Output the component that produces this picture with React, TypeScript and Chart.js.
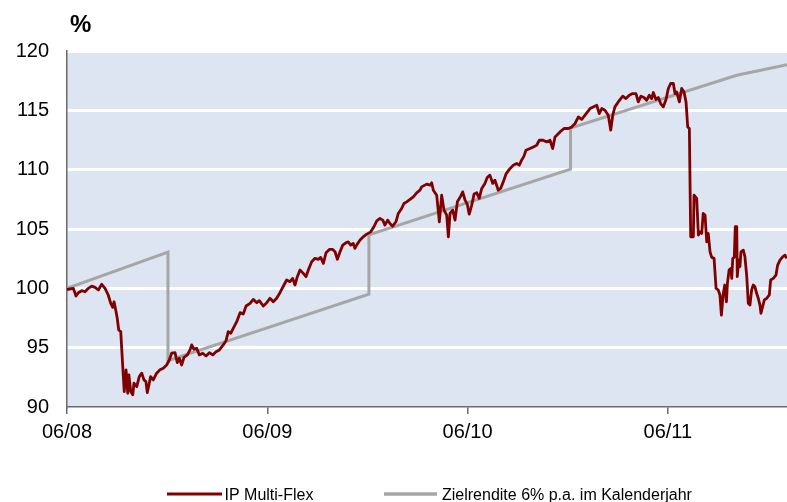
import React, { useEffect, useRef } from 'react';
import { Chart, registerables } from 'chart.js';

Chart.register(...registerables);

// ---------- data ----------
const tickMonths = [0, 12, 24, 36]; // months after end of June 2008
const tickLabels = ['06/08', '06/09', '06/10', '06/11'];
const seriesNames = ['IP Multi-Flex', 'Zielrendite 6% p.a. im Kalenderjahr'];

const fundMonths = [
  0, 0.38, 0.54, 0.68, 0.88, 1.08, 1.28, 1.48, 1.68, 1.88,
  2.08, 2.28, 2.47, 2.62, 2.74, 2.82, 2.94, 3.01, 3.10, 3.22,
  3.34, 3.43, 3.54, 3.64, 3.71, 3.82, 3.94, 4.01, 4.18, 4.33,
  4.48, 4.61, 4.73, 4.81, 4.93, 5.01, 5.17, 5.37, 5.57, 5.77,
  5.97, 6.13, 6.27, 6.47, 6.61, 6.73, 6.87, 7.01, 7.21, 7.37,
  7.47, 7.61, 7.77, 7.93, 8.13, 8.33, 8.53, 8.73, 8.93, 9.13,
  9.36, 9.53, 9.66, 9.81, 9.96, 10.17,
  10.37, 10.56, 10.73, 10.97, 11.16, 11.37, 11.52, 11.76, 11.97, 12.16,
  12.36, 12.56, 12.76, 13.0, 13.16, 13.36, 13.52, 13.66, 13.8, 13.96,
  14.16, 14.32, 14.46, 14.66, 14.86, 15.06, 15.2, 15.36, 15.52, 15.72,
  15.92, 16.06, 16.2, 16.36, 16.52, 16.72, 16.85, 17.0, 17.15, 17.25,
  17.39, 17.56, 17.75, 17.96, 18.2, 18.39, 18.56, 18.75, 18.92, 19.05,
  19.21, 19.35, 19.51, 19.71, 19.85, 20.05, 20.19, 20.35, 20.55, 20.75,
  20.95, 21.15,
  21.25, 21.55, 21.75, 21.85, 21.95, 22.15, 22.31, 22.45, 22.59, 22.75,
  22.85, 22.95, 23.11, 23.25, 23.39, 23.59, 23.71, 23.85, 23.98, 24.1,
  24.25, 24.39, 24.55, 24.7, 24.85, 25.04, 25.18, 25.34, 25.51, 25.64,
  25.84, 25.98, 26.14, 26.3, 26.5, 26.74, 26.94, 27.1, 27.24, 27.38,
  27.5, 27.74, 27.94, 28.14, 28.3,
  28.54, 28.74, 28.94, 29.1, 29.24, 29.54, 29.78, 30.04, 30.24, 30.44,
  30.64, 30.84, 31.04, 31.34, 31.53, 31.74, 31.89, 32.04, 32.23, 32.43,
  32.58, 32.7, 32.83, 33.03, 33.3, 33.49, 33.69, 33.89, 34.09, 34.23,
  34.39, 34.57, 34.73, 34.89, 35.03, 35.13, 35.29, 35.43, 35.57, 35.73,
  35.89, 36.03, 36.17, 36.33, 36.43, 36.53, 36.69, 36.83, 36.97, 37.09,
  37.19, 37.29,
  37.37, 37.53, 37.57, 37.73, 37.83, 37.93, 38.03, 38.12, 38.23, 38.33,
  38.42, 38.53, 38.63, 38.77, 38.89, 39.02, 39.12, 39.21, 39.31, 39.41,
  39.51, 39.57, 39.67, 39.77, 39.83, 39.89, 39.98, 40.04, 40.13, 40.16,
  40.25, 40.32, 40.38, 40.52, 40.62, 40.73, 40.82, 40.92, 41.02, 41.12,
  41.22, 41.32, 41.42, 41.52, 41.58, 41.68, 41.78, 41.92, 42.08, 42.16,
  42.32, 42.48, 42.58, 42.72, 42.88, 43.02, 43.12,
];

const fundValues = [
  99.9, 100.0, 99.35, 99.63, 99.8, 99.71, 100.0, 100.19, 100.08, 99.86,
  100.34, 100.0, 99.44, 98.74, 98.4, 98.87, 98.03, 97.47, 96.49, 96.35,
  93.4, 91.3, 93.12, 91.16, 92.7, 91.3, 91.02, 92.0, 91.72, 92.56,
  92.85, 92.28, 92.14, 91.21, 92.0, 92.56, 92.28, 92.85, 93.13, 93.27,
  93.54, 93.96, 94.53, 94.58, 93.74, 94.11, 93.54, 94.19, 94.39, 94.81,
  95.23, 94.87, 94.95, 94.39, 94.53, 94.3, 94.58, 94.39, 94.66, 94.81,
  95.23, 95.59, 96.35, 96.21, 96.63, 97.19,
  97.95, 97.84, 98.51, 98.74, 99.07, 98.79, 98.96, 98.51, 98.79, 99.16,
  98.87, 99.16, 99.63, 100.28, 100.7, 100.56, 100.84, 100.28, 100.98, 101.54,
  101.26, 100.98, 101.54, 102.24, 102.53, 102.44, 102.61, 102.1, 103.0, 103.28,
  103.28, 103.08, 102.44, 103.08, 103.64, 103.84, 103.92, 103.64, 103.79, 103.37,
  103.73, 104.07, 104.34, 104.57, 104.76, 105.19, 105.69, 105.89, 105.75, 105.33,
  105.75, 105.47, 105.24, 105.61, 106.31, 106.73, 107.15, 107.29, 107.49, 107.71,
  108.05, 108.27,
  108.55, 108.78, 108.7, 108.89, 108.27, 107.85, 105.61, 107.85, 106.59, 106.17,
  104.34, 106.31, 106.59, 105.75, 107.29, 107.77, 108.13, 107.43, 107.1, 106.25,
  107.01, 107.94, 108.05, 107.58, 108.42, 108.84, 109.34, 109.54, 108.84, 109.12,
  108.27, 108.42, 108.97, 109.62, 110.02, 110.38, 110.52, 110.38, 110.8, 111.14,
  111.64, 111.78, 111.92, 112.06, 112.48,
  112.48, 112.34, 112.48, 111.78, 112.76, 113.18, 113.47, 113.47, 113.6, 113.89,
  114.44, 114.23, 114.59, 115.15, 115.29, 115.43, 114.73, 115.15, 115.01, 114.59,
  113.33, 114.59, 115.29, 115.71, 116.19, 115.99, 116.27, 116.41, 116.41, 115.71,
  116.19, 116.08, 115.85, 116.27, 115.99, 116.5, 115.91, 116.08, 115.57, 115.29,
  115.91, 116.84, 117.26, 117.26, 116.41, 116.55, 115.71, 116.84, 116.55, 115.71,
  113.6, 113.47,
  104.34, 104.34, 107.85, 107.58, 104.49, 104.76, 104.63, 106.31, 106.17, 103.92,
  104.63, 103.08, 102.61, 102.53, 100.0, 99.86, 99.44, 97.75, 99.44, 100.28,
  98.87, 100.42, 101.54, 101.68, 100.84, 102.53, 102.61, 105.19, 105.19, 100.98,
  102.38, 101.82, 103.08, 103.22, 102.66, 100.98, 98.74, 98.59, 99.86, 100.28,
  100.13, 99.58, 99.16, 98.59, 97.9, 98.45, 99.02, 99.16, 99.44, 100.7,
  100.84, 101.12, 101.96, 102.38, 102.66, 102.8, 102.53,
];

const targetMonths = [0, 6.05, 6.05, 18.09, 18.09, 30.17, 30.17, 40.13, 43.14];
const targetValues = [100, 103.05, 93.9, 99.5, 104.5, 110.05, 113.5, 117.95, 118.85];

// ---------- styles ----------
const FONT = '"Liberation Sans", Arial, Helvetica, sans-serif';
const RED = '#800000';
const GRAY = '#a6a6a6';
const PLOT_BG = '#dce5f1';
const AXIS = '#6b6b6b';

const zip = (xs: number[], ys: number[]) =>
  xs.slice(0, Math.min(xs.length, ys.length)).map((x, i) => ({ x, y: ys[i] }));

const decor = {
  id: 'decor',
  beforeDraw(chart: any) {
    const { ctx, chartArea: a } = chart;
    ctx.save();
    ctx.fillStyle = PLOT_BG;
    ctx.fillRect(a.left, a.top, a.right - a.left, a.bottom - a.top);
    ctx.restore();
  },
  afterDraw(chart: any) {
    const ctx = chart.ctx as CanvasRenderingContext2D;
    ctx.save();
    ctx.fillStyle = '#000';
    ctx.textBaseline = 'alphabetic';
    ctx.textAlign = 'left';
    ctx.font = `bold 24px ${FONT}`;
    ctx.fillText('%', 70, 31.5);

    ctx.font = `16px ${FONT}`;
    const starts = [167, 384];
    const lens = [55, 53];
    const gaps = [57.5, 58];
    const widths = [3, 3.6];
    chart.data.datasets.forEach((ds: any, i: number) => {
      const x0 = starts[i];
      ctx.strokeStyle = ds.borderColor;
      ctx.lineWidth = widths[i];
      ctx.beginPath();
      ctx.moveTo(x0, 494);
      ctx.lineTo(x0 + lens[i], 494);
      ctx.stroke();
      ctx.fillStyle = '#000';
      ctx.fillText(ds.label, x0 + gaps[i], 500);
    });
    ctx.restore();
  },
};

export default function App() {
  const ref = useRef<HTMLCanvasElement>(null);

  useEffect(() => {
    if (!ref.current) return;
    const chart = new Chart(ref.current, {
      type: 'line',
      data: {
        datasets: [
          {
            label: seriesNames[0],
            data: zip(fundMonths, fundValues),
            borderColor: RED,
            borderWidth: 2.8,
            pointRadius: 0,
            tension: 0,
            borderJoinStyle: 'round',
            fill: false,
          },
          {
            label: seriesNames[1],
            data: zip(targetMonths, targetValues),
            borderColor: GRAY,
            borderWidth: 3,
            pointRadius: 0,
            tension: 0,
            fill: false,
          },
        ],
      },
      options: {
        responsive: false,
        animation: false,
        devicePixelRatio: 1,
        layout: { padding: { top: 51, left: 0, right: 0, bottom: 0 } },
        plugins: {
          legend: { display: false },
          tooltip: { enabled: false },
          title: { display: false },
        },
        scales: {
          x: {
            type: 'linear',
            min: 0,
            max: 43.14,
            afterBuildTicks: (s: any) => {
              s.ticks = tickMonths.map((v) => ({ value: v }));
            },
            afterFit: (s: any) => {
              s.height = 95;
            },
            ticks: {
              autoSkip: false,
              maxRotation: 0,
              padding: 6,
              color: '#000',
              font: { family: FONT, size: 20 },
              callback: (v: any) => {
                const i = tickMonths.indexOf(Number(v));
                return i >= 0 ? tickLabels[i] : '';
              },
            },
            grid: {
              drawOnChartArea: false,
              drawTicks: true,
              tickLength: 7,
              color: AXIS,
              lineWidth: 1.5,
            },
            border: { display: true, color: AXIS, width: 1.5 },
          },
          y: {
            min: 90,
            max: 120,
            afterFit: (s: any) => {
              s.width = 67;
            },
            ticks: {
              stepSize: 5,
              padding: 18,
              color: '#000',
              font: { family: FONT, size: 20 },
            },
            grid: {
              drawTicks: false,
              lineWidth: 3,
              color: (c: any) => (c.tick && c.tick.value === 90 ? 'rgba(0,0,0,0)' : '#ffffff'),
            },
            border: { display: true, color: AXIS, width: 1.5 },
          },
        },
      },
      plugins: [decor],
    } as any);
    return () => chart.destroy();
  }, []);

  return (
    <div style={{ position: 'absolute', left: 0, top: 0, width: 787, height: 502, background: '#fff' }}>
      <canvas ref={ref} width={787} height={502} style={{ display: 'block' }} />
    </div>
  );
}
